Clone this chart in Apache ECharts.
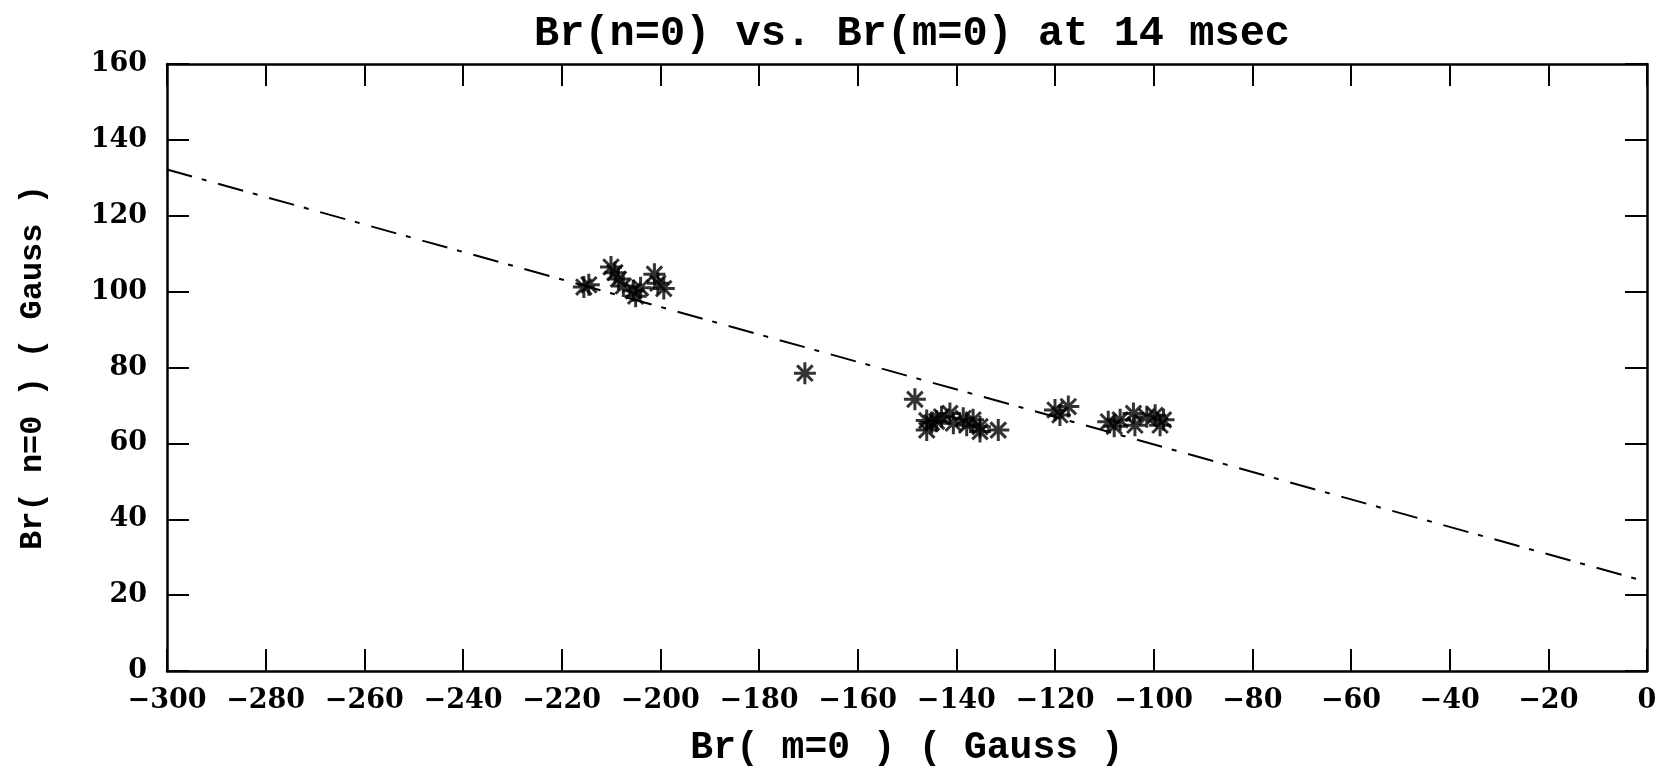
<!DOCTYPE html>
<html>
<head>
<meta charset="utf-8">
<script src="https://cdn.jsdelivr.net/npm/echarts@6/dist/echarts.min.js"></script>
<style>html,body{margin:0;padding:0;background:#fff;}#c{width:1666px;height:770px;}</style>
</head>
<body>
<div id="c"></div>
<script>
// Data
const titleText = 'Br(n=0) vs. Br(m=0) at 14 msec';
const xName = 'Br( m=0 ) ( Gauss )';
const yName = 'Br( n=0 ) ( Gauss )';
const xTicks = [-300,-280,-260,-240,-220,-200,-180,-160,-140,-120,-100,-80,-60,-40,-20,0];
const yTicks = [0,20,40,60,80,100,120,140,160];
const brM = [
  -215.5,-214.5,-210.0,-209.2,-208.5,-207.5,-205.5,-205.0,-204.0,-201.2,-200.5,-199.3,
  -170.7,-148.4,
  -146.0,-146.0,-145.0,-144.0,-143.0,-141.3,-140.6,-138.6,-137.9,-136.6,-135.2,-135.2,-131.5,
  -120.0,-119.0,-117.3,
  -109.2,-108.0,-106.8,-104.1,-103.8,-101.4,-99.7,-98.7,-98.0
];
const brN = [
  101.2,101.8,106.5,105.0,103.3,101.5,100.2,98.8,101.0,104.6,102.2,100.8,
  78.5,71.6,
  66.0,63.5,65.5,65.8,67.0,67.9,65.3,66.6,64.8,66.2,64.4,63.1,63.5,
  68.8,67.5,69.7,
  65.7,64.5,66.2,67.9,64.8,67.0,67.4,64.8,66.2
];
const fitX = [-300, 0];
const fitY = [132.2, 23.5];

const pts = brM.map((x,i)=>[x, brN[i]]);
const fit = fitX.map((x,i)=>[x, fitY[i]]);
const fmt = v => v < 0 ? '\u2212' + Math.abs(v) : String(v);
const star = 'path://M0,-10L0,10M-10,0L10,0M-7.07,-7.07L7.07,7.07M-7.07,7.07L7.07,-7.07';
const tickFont = {fontFamily:'DejaVu Serif', fontWeight:'bold', fontSize:27, color:'#000'};
const axLine = {show:true, onZero:false, lineStyle:{color:'#000', width:2.5}};
const axTick = {show:true, inside:true, length:22, lineStyle:{color:'#000', width:2}};

const chart = echarts.init(document.getElementById('c'), null, {renderer:'canvas'});
chart.setOption({
  backgroundColor:'#fff',
  animation:false,
  title:{text:titleText, left:907, textAlign:'center', top:8,
    textStyle:{fontFamily:'Liberation Mono', fontWeight:'bold', fontSize:42, color:'#000'}},
  grid:{left:167, right:19, top:64, bottom:99, outerBoundsMode:'none', containLabel:false},
  xAxis:[{
    type:'value', min:-300, max:0, interval:20, position:'bottom',
    name:xName, nameLocation:'middle', nameGap:58,
    nameTextStyle:{fontFamily:'Liberation Mono', fontWeight:'bold', fontSize:38, color:'#000'},
    axisLine:axLine, axisTick:axTick, splitLine:{show:false},
    axisLabel:Object.assign({margin:16, formatter:fmt, showMinLabel:true, showMaxLabel:true}, tickFont)
  },{
    type:'value', min:-300, max:0, interval:20, position:'top',
    axisLine:axLine, axisTick:axTick, splitLine:{show:false}, axisLabel:{show:false}
  }],
  yAxis:[{
    type:'value', min:0, max:160, interval:20, position:'left',
    name:yName, nameLocation:'middle', nameGap:118, nameRotate:90,
    nameTextStyle:{fontFamily:'Liberation Mono', fontWeight:'bold', fontSize:32, color:'#000'},
    axisLine:axLine, axisTick:axTick, splitLine:{show:false},
    axisLabel:Object.assign({margin:20, formatter:fmt, padding:[0,0,30,0]}, tickFont)
  },{
    type:'value', min:0, max:160, interval:20, position:'right',
    axisLine:axLine, axisTick:axTick, splitLine:{show:false}, axisLabel:{show:false}
  }],
  series:[{
    type:'line', data:fit, showSymbol:false, symbol:'none',
    lineStyle:{color:'#000', width:2, type:[26,10,5,12]}, z:2
  },{
    type:'scatter', data:pts, symbol:star, symbolSize:22,
    itemStyle:{color:'none', borderColor:'#000', borderWidth:3}, z:3
  }]
});
</script>
</body>
</html>
